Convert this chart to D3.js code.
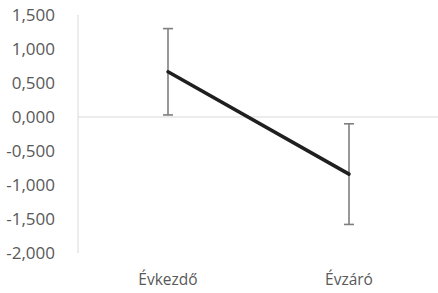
<!DOCTYPE html>
<html>
<head>
<meta charset="utf-8">
<script src="https://cdn.jsdelivr.net/npm/d3@7"></script>
<style>
  body { margin: 0; background: #fff; }
  text { font-family: "Open Sans", "Liberation Sans", sans-serif; fill: #595959; }
</style>
</head>
<body>
<svg id="chart" width="438" height="293"></svg>
<script>
const categories = ["Évkezdő", "Évzáró"];
const values = [0.665, -0.84];
const errors = [0.635, 0.74];
const yTicks = [1.5, 1, 0.5, 0, -0.5, -1, -1.5, -2];

const svg = d3.select("#chart");

const x = d3.scalePoint()
  .domain(categories)
  .range([168, 349]);

const y = d3.scaleLinear()
  .domain([-2, 1.5])
  .range([253, 15]);

// hungarian style: comma decimal, plain hyphen minus
const huLocale = d3.formatLocale({ decimal: ",", thousands: " ", grouping: [3], currency: ["", ""], minus: "-" });
const fmt = huLocale.format(".3f");

// y axis line
svg.append("line")
  .attr("x1", 78).attr("x2", 78)
  .attr("y1", y(1.5)).attr("y2", y(-2))
  .style("stroke", "#d9d9d9").style("stroke-width", 1);

// zero line
svg.append("line")
  .attr("x1", 78).attr("x2", 438)
  .attr("y1", y(0)).attr("y2", y(0))
  .style("stroke", "#d9d9d9").style("stroke-width", 1);

// y labels
svg.append("g")
  .selectAll("text")
  .data(yTicks).enter()
  .append("text")
  .attr("x", 55)
  .attr("y", d => y(d))
  .attr("dy", "0.35em")
  .attr("text-anchor", "end")
  .style("font-size", "17px")
  .text(fmt);

// category labels
svg.append("g")
  .selectAll("text")
  .data(categories).enter()
  .append("text")
  .attr("x", d => x(d))
  .attr("y", 285)
  .attr("text-anchor", "middle")
  .style("font-size", "15.5px")
  .text(d => d);

// error bars
const eb = svg.append("g")
  .style("stroke", "#7f7f7f")
  .style("stroke-width", 1.6);

categories.forEach(function (c, i) {
  const cx = x(c);
  const top = y(values[i] + errors[i]);
  const bot = y(values[i] - errors[i]);
  eb.append("line").attr("x1", cx).attr("x2", cx).attr("y1", top).attr("y2", bot);
  eb.append("line").attr("x1", cx - 5).attr("x2", cx + 5).attr("y1", top).attr("y2", top);
  eb.append("line").attr("x1", cx - 5).attr("x2", cx + 5).attr("y1", bot).attr("y2", bot);
});

// line
const line = d3.line()
  .x((d, i) => x(categories[i]))
  .y(d => y(d));

svg.append("path")
  .datum(values)
  .attr("d", line)
  .style("fill", "none")
  .style("stroke", "#1f1f1f")
  .style("stroke-width", 3.5)
  .style("stroke-linecap", "round");
</script>
</body>
</html>
